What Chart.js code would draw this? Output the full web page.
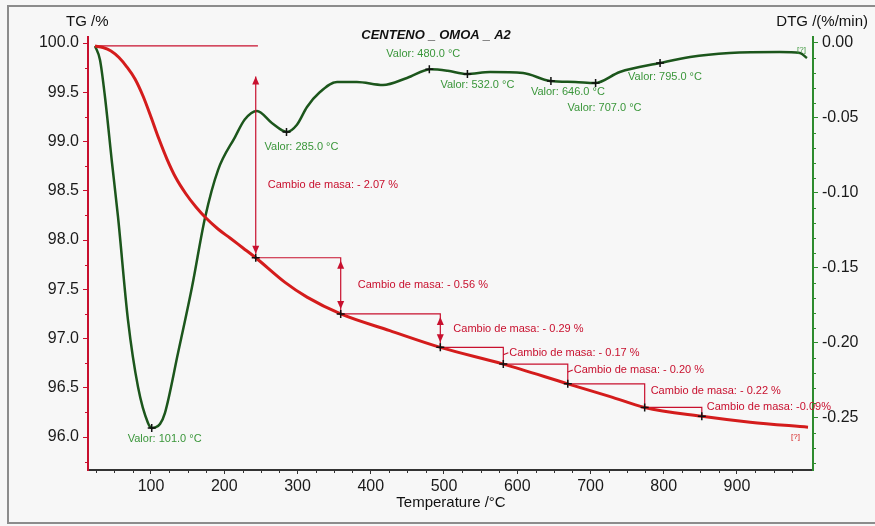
<!DOCTYPE html>
<html>
<head>
<meta charset="utf-8">
<script src="https://cdn.jsdelivr.net/npm/chart.js@4.4.0/dist/chart.umd.min.js"></script>
<style>
  html, body { margin: 0; padding: 0; background: #f7f7f7; }
  #wrap { position: relative; width: 875px; height: 526px; overflow: hidden; }
  #frame { position: absolute; left: 7px; top: 5px; width: 880px; height: 515px; border: 2px solid #8c8c8c; border-right: none; pointer-events: none; }
</style>
</head>
<body>
<div id="wrap">
  <canvas id="tga" width="875" height="526"></canvas>
  <div id="frame"></div>
</div>
<script>
// TG curve (mass %)
const tgTemp = [23.6, 34.5, 45.4, 56.3, 67.2, 78.2, 89.1, 100, 110.9, 121.8, 134.1, 147.8, 161.4, 175.1, 191.5, 207.9, 225.6, 243, 283, 313, 359, 426, 495, 581, 669, 727, 774, 852, 918, 997];
const tgMass = [99.97, 99.954, 99.919, 99.853, 99.756, 99.635, 99.462, 99.249, 99.025, 98.822, 98.629, 98.467, 98.335, 98.223, 98.112, 98.02, 97.919, 97.82, 97.57, 97.42, 97.25, 97.08, 96.91, 96.74, 96.54, 96.41, 96.30, 96.21, 96.15, 96.10];

// DTG curve (%/min)
const dtgTemp = [23.6, 30.4, 37.2, 46.8, 55, 68.6, 82.3, 95.9, 101.4, 105.5, 112.3, 119, 136.9, 156, 173.7, 191.5, 214.7, 228, 244.7, 265, 285.7, 299, 313, 330.7, 354, 381, 416.7, 449.5, 482, 505, 531, 563, 608, 644.7, 679, 706, 740, 795, 836, 890, 958, 986, 995.6];
const dtgRate = [-0.002, -0.0113, -0.036, -0.080, -0.116, -0.1847, -0.2293, -0.2533, -0.2567, -0.2563, -0.254, -0.2467, -0.2067, -0.1627, -0.1167, -0.0847, -0.0627, -0.051, -0.0453, -0.0533, -0.0593, -0.0547, -0.0427, -0.0327, -0.026, -0.026, -0.028, -0.0233, -0.0175, -0.0185, -0.0207, -0.0193, -0.020, -0.0253, -0.026, -0.0267, -0.0193, -0.0133, -0.0093, -0.0067, -0.006, -0.0067, -0.010];

// mass-change steps
const startTemp = 23.6;
const startMass = 99.97;
const arrowTopMass = 99.66;
const stepTemp = [243, 359, 495, 581, 669, 774, 852];
const stepMass = [97.82, 97.25, 96.91, 96.74, 96.54, 96.30, 96.21];
const massChange = ['- 2.07 %', '- 0.56 %', '- 0.29 %', '- 0.17 %', '- 0.20 %', '- 0.22 %', '-0.09%'];

// DTG peaks
const peakTemp = [101, 285, 480, 532, 646, 707, 795];
const peakRate = [-0.2567, -0.0593, -0.0175, -0.0207, -0.0253, -0.0267, -0.0133];

// axis ticks
const xTicks = [100, 200, 300, 400, 500, 600, 700, 800, 900];
const tgTicks = [96.0, 96.5, 97.0, 97.5, 98.0, 98.5, 99.0, 99.5, 100.0];
const dtgTicks = [-0.25, -0.20, -0.15, -0.10, -0.05, 0.00];

const FONT = '"Liberation Sans", Arial, sans-serif';
const RED = '#d41c1c';
const LINE_RED = '#c8102e';
const GREEN = '#1c561c';
const LABEL_GREEN = '#3a963a';

const pts = (xs, ys) => xs.map((x, i) => ({ x: x, y: ys[i] }));

const stepPts = [];
stepTemp.forEach((t, i) => {
  if (i > 0) stepPts.push({ x: t, y: stepMass[i - 1] });
  stepPts.push({ x: t, y: stepMass[i] });
});

// label offsets in px
const peakOffset = [[-24, 11], [-22, 15], [-43, -15], [-27, 11], [-20, 11], [-28, 25], [-32, 14]];
const changeOffset = [[9, 0], [14, -1], [10, -2], [3, -3], [3, -4], [3, -5], [2, -5]];

function head(ctx, px, py, dir) {
  ctx.beginPath();
  ctx.moveTo(px, py);
  ctx.lineTo(px - 3.5, py - dir * 8);
  ctx.lineTo(px + 3.5, py - dir * 8);
  ctx.closePath();
  ctx.fill();
}

const decor = {
  id: 'decor',
  afterDatasetsDraw(chart) {
    const { ctx, scales: { x, yTG, yDTG } } = chart;
    ctx.save();
    ctx.strokeStyle = LINE_RED;
    ctx.fillStyle = LINE_RED;
    ctx.lineWidth = 1.2;

    // first arrow
    const ax = x.getPixelForValue(stepTemp[0]);
    const aTop = yTG.getPixelForValue(arrowTopMass);
    const aBot = yTG.getPixelForValue(stepMass[0]) - 4;
    ctx.beginPath();
    ctx.moveTo(ax, aTop);
    ctx.lineTo(ax, aBot);
    ctx.stroke();
    head(ctx, ax, aTop, -1);
    head(ctx, ax, aBot, 1);

    // heads on the next two steps
    for (let i = 1; i <= 2; i++) {
      const sx = x.getPixelForValue(stepTemp[i]);
      head(ctx, sx, yTG.getPixelForValue(stepMass[i - 1]) + 3, -1);
      head(ctx, sx, yTG.getPixelForValue(stepMass[i]) - 5, 1);
    }

    // mass change labels
    ctx.font = '11px ' + FONT;
    ctx.textBaseline = 'middle';
    ctx.textAlign = 'left';
    massChange.forEach((txt, i) => {
      const vx = x.getPixelForValue(stepTemp[i]);
      let vy;
      if (i === 0) vy = 185;
      else vy = (yTG.getPixelForValue(stepMass[i - 1]) + yTG.getPixelForValue(stepMass[i])) / 2;
      const [dx, dy] = changeOffset[i];
      if (i >= 3 && i <= 4) {
        ctx.beginPath();
        ctx.moveTo(vx, vy + dy + 2);
        ctx.lineTo(vx + dx + 2, vy + dy);
        ctx.stroke();
      }
      ctx.fillText('Cambio de masa: ' + txt, vx + dx + 3, vy + dy);
    });

    // peak labels
    ctx.fillStyle = LABEL_GREEN;
    peakTemp.forEach((t, i) => {
      const px = x.getPixelForValue(t);
      const py = yDTG.getPixelForValue(peakRate[i]);
      const [dx, dy] = peakOffset[i];
      ctx.fillText('Valor: ' + t.toFixed(1) + ' °C', px + dx, py + dy);
    });

    // small [?] marks
    ctx.font = '8px ' + FONT;
    ctx.fillStyle = RED;
    ctx.fillText('[?]', 791, 437);
    ctx.fillStyle = LABEL_GREEN;
    ctx.fillText('[?]', 797, 50);
    ctx.restore();
  },
  afterDraw(chart) {
    const { ctx, chartArea, scales: { x, yTG, yDTG } } = chart;
    ctx.save();
    ctx.lineWidth = 1;

    // minor ticks
    ctx.strokeStyle = '#333';
    ctx.beginPath();
    for (let v = 25; v <= x.max; v += 25) {
      if (v < x.min || v % 100 === 0) continue;
      const px = Math.round(x.getPixelForValue(v)) + 0.5;
      ctx.moveTo(px, chartArea.bottom);
      ctx.lineTo(px, chartArea.bottom + 3);
    }
    ctx.stroke();

    ctx.strokeStyle = LINE_RED;
    ctx.beginPath();
    for (let v = 95.75; v <= yTG.max; v += 0.5) {
      const py = Math.round(yTG.getPixelForValue(v)) + 0.5;
      ctx.moveTo(chartArea.left - 3, py);
      ctx.lineTo(chartArea.left, py);
    }
    ctx.stroke();

    ctx.strokeStyle = '#2e8b2e';
    ctx.beginPath();
    for (let k = -28; k <= 0; k++) {
      if (k % 5 === 0) continue;
      const py = Math.round(yDTG.getPixelForValue(k / 100)) + 0.5;
      ctx.moveTo(chartArea.right, py);
      ctx.lineTo(chartArea.right + 3, py);
    }
    ctx.stroke();

    // titles
    ctx.fillStyle = '#111';
    ctx.textBaseline = 'middle';
    ctx.font = '15px ' + FONT;
    ctx.textAlign = 'left';
    ctx.fillText('TG /%', 66, 22);
    ctx.textAlign = 'right';
    ctx.fillText('DTG /(%/min)', 868, 22);
    ctx.textAlign = 'center';
    ctx.fillText('Temperature /°C', 451, 503);
    ctx.font = 'italic bold 13px ' + FONT;
    ctx.fillText('CENTENO _ OMOA _ A2', 436, 35);
    ctx.restore();
  }
};

new Chart(document.getElementById('tga'), {
  type: 'line',
  data: {
    datasets: [
      {
        data: pts(stepTemp, stepMass),
        yAxisID: 'yTG',
        showLine: false,
        pointStyle: 'cross',
        pointRadius: 4,
        pointBorderColor: '#111',
        pointBorderWidth: 1.5,
        order: 0
      },
      {
        data: pts(peakTemp, peakRate),
        yAxisID: 'yDTG',
        showLine: false,
        pointStyle: 'cross',
        pointRadius: 4,
        pointBorderColor: '#111',
        pointBorderWidth: 1.5,
        order: 0
      },
      {
        label: 'TG',
        data: pts(tgTemp, tgMass),
        yAxisID: 'yTG',
        borderColor: RED,
        borderWidth: 3,
        pointRadius: 0,
        cubicInterpolationMode: 'monotone',
        order: 1
      },
      {
        label: 'DTG',
        data: pts(dtgTemp, dtgRate),
        yAxisID: 'yDTG',
        borderColor: GREEN,
        borderWidth: 2.5,
        pointRadius: 0,
        cubicInterpolationMode: 'monotone',
        order: 2
      },
      {
        data: stepPts,
        yAxisID: 'yTG',
        borderColor: LINE_RED,
        borderWidth: 1.2,
        pointRadius: 0,
        tension: 0,
        order: 3
      },
      {
        data: [{ x: startTemp, y: startMass }, { x: stepTemp[0] + 3, y: startMass }],
        yAxisID: 'yTG',
        borderColor: LINE_RED,
        borderWidth: 1.2,
        pointRadius: 0,
        order: 3
      }
    ]
  },
  options: {
    responsive: false,
    animation: false,
    layout: { padding: { top: 37, left: 0, right: 0, bottom: 0 } },
    plugins: {
      legend: { display: false },
      title: { display: false },
      tooltip: { enabled: false }
    },
    scales: {
      x: {
        type: 'linear',
        position: 'bottom',
        min: 14,
        max: 1003.8,
        afterFit: s => { s.height = 56; },
        afterBuildTicks: s => { s.ticks = xTicks.map(v => ({ value: v })); },
        ticks: { color: '#1a1a1a', padding: 3, font: { size: 16, family: FONT }, callback: v => String(v), maxRotation: 0 },
        grid: { drawOnChartArea: false, drawTicks: true, tickLength: 4, color: '#333' },
        border: { color: '#333', width: 2 }
      },
      yTG: {
        type: 'linear',
        position: 'left',
        min: 95.665,
        max: 100.061,
        afterFit: s => { s.width = 88; },
        afterBuildTicks: s => { s.ticks = tgTicks.map(v => ({ value: v })); },
        ticks: { color: '#1a1a1a', padding: 4, font: { size: 16, family: FONT }, callback: v => v.toFixed(1) },
        grid: { drawOnChartArea: false, drawTicks: true, tickLength: 5, color: LINE_RED },
        border: { color: LINE_RED, width: 2 }
      },
      yDTG: {
        type: 'linear',
        position: 'right',
        min: -0.28467,
        max: 0.004,
        afterFit: s => { s.width = 62; },
        afterBuildTicks: s => { s.ticks = dtgTicks.map(v => ({ value: v })); },
        ticks: { color: '#1a1a1a', padding: 4, font: { size: 16, family: FONT }, callback: v => v.toFixed(2) },
        grid: { drawOnChartArea: false, drawTicks: true, tickLength: 5, color: '#2e8b2e' },
        border: { color: '#2e8b2e', width: 2 }
      }
    }
  },
  plugins: [decor]
});
</script>
</body>
</html>
